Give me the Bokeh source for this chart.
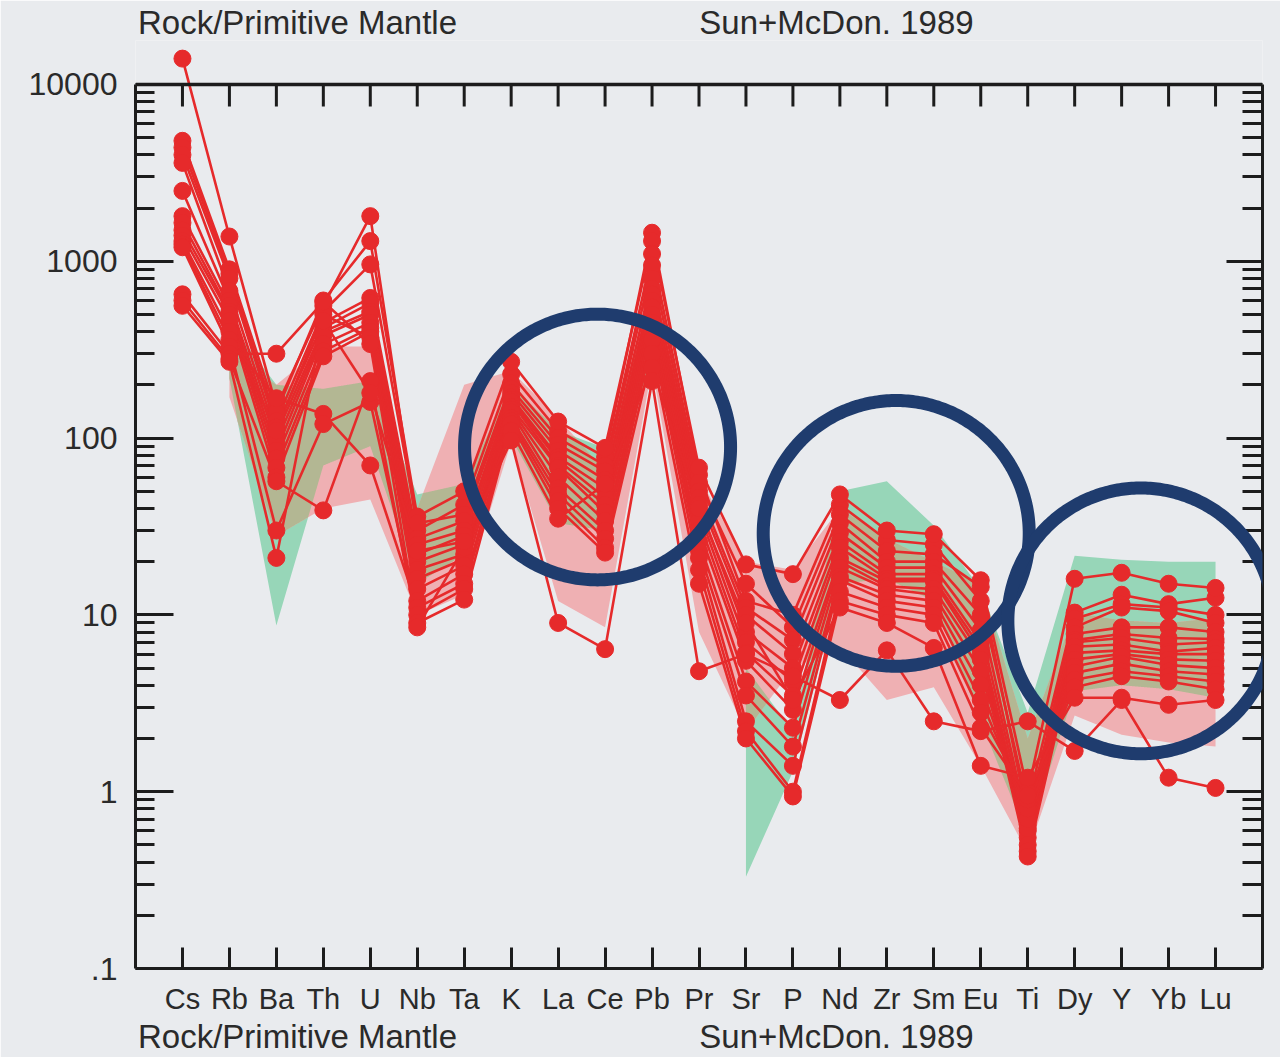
import numpy as np
from bokeh.plotting import figure
from bokeh.models import (Range1d, FixedTicker, LogAxis, LinearAxis, Span, PolyAnnotation)
from bokeh.embed import file_html
from bokeh.resources import INLINE

# ---------------------------------------------------------------- data
ELEMENTS = ["Cs", "Rb", "Ba", "Th", "U", "Nb", "Ta", "K", "La", "Ce", "Pb", "Pr",
            "Sr", "P", "Nd", "Zr", "Sm", "Eu", "Ti", "Dy", "Y", "Yb", "Lu"]

# Sample / primitive mantle ratios (order follows ELEMENTS)
S01 = [14000, 1380, 150, 560, 1800, 30, 42, 230, 110, 78, 1450, 62, 12, 10, 42, 26.5, 25, 12, 0.85, 10.3, 13, 11.5, 12.5]
S02 = [4800, 900, 140, 600, 1300, 36, 50, 270, 124, 88, 1300, 68, 19.3, 17, 48, 30, 28.6, 15.7, 1.0, 16, 17.3, 15, 14.2]
S03 = [4400, 850, 125, 520, 960, 33, 37, 204, 100, 70, 1100, 56, 15, 8.5, 37, 23, 22, 14.4, 0.72, 9.5, 11.5, 11, 10]
S04 = [4000, 800, 115, 450, 620, 27, 34, 190, 92, 65, 950, 50, 11, 7.2, 33, 20, 20, 10, 0.65, 8.5, 11, 10.5, 9]
S05 = [3600, 680, 105, 420, 580, 25, 30, 180, 85, 58, 800, 46, 10, 6, 29, 18.5, 18.5, 8.2, 0.6, 7.8, 8.5, 8.5, 8]
S06 = [2500, 600, 95, 400, 520, 22, 28, 170, 78, 52, 700, 42, 8, 5, 26, 17, 17, 7, 0.55, 7.2, 7.8, 7.4, 7.3]
S07 = [1800, 560, 85, 380, 500, 20, 25, 165, 75, 46, 650, 38, 7, 4.2, 24, 16, 16, 6.5, 0.5, 7.0, 7.4, 6.8, 7]
S08 = [1650, 520, 77, 340, 450, 18, 22, 160, 70, 42, 600, 34, 6.1, 3.5, 21, 15.5, 15.5, 6, 0.46, 6.6, 6.8, 6.2, 6.5]
S09 = [1500, 500, 68, 310, 420, 16, 20.7, 150, 68, 38, 550, 30, 5.5, 2.9, 20, 14.5, 14, 5.6, 0.43, 6.1, 6.3, 6.0, 6]
S10 = [1400, 460, 60, 290, 400, 14, 19, 145, 60, 34, 500, 26, 4.2, 2.3, 18.5, 14, 13, 4.8, 0.62, 5.6, 6.0, 5.6, 5.5]
S11 = [1300, 400, 110, 500, 370, 12, 17, 140, 52, 30, 450, 23, 3.5, 1.8, 16.5, 13, 12, 4, 0.7, 5.1, 5.8, 5.2, 5]
S12 = [1250, 360, 168, 137, 70, 11, 15, 130, 48, 27, 400, 21, 2.5, 1.4, 15.7, 12, 11, 3.3, 0.8, 4.7, 5.3, 4.8, 4.6]
S13 = [1200, 330, 30, 120, 160, 10, 14, 125, 44, 24, 360, 18, 2.2, 1.0, 13.5, 11, 10, 2.8, 0.9, 4.3, 4.8, 4.5, 4.2]
S14 = [650, 300, 300, 590, 340, 9, 12.2, 120, 40, 22.5, 300, 15, 2.0, 0.94, 12, 10, 9, 2.3, 0.95, 3.9, 4.5, 4.2, 3.8]
S15 = [600, 280, 57, 39, 210, 8.5, 24, 110, 35, 55, 250, 40, 9, 3.3, 11, 9, 6.5, 1.4, 1.2, 3.4, 3.4, 3.1, 3.3]
S16 = [560, 270, 21, 460, 180, 23, 26, 97, 9, 6.4, 210, 4.8, 6, 4.5, 3.3, 6.3, 2.5, 2.2, 2.5, 1.7, 3.3, 1.2, 1.05]
SAMPLES = [S01, S02, S03, S04, S05, S06, S07, S08, S09, S10, S11, S12, S13, S14, S15, S16]

# Pink reference field, Rb .. Lu (upper / lower envelope)
PINK_HI = [300, 200, 330, 330, 40, 200, 240, 130, 65, 800, 60, 20, 18, 40, 27, 20, 15, 2.0, 10.3, 9.3, 9.0, 9.6]
PINK_LO = [170, 28, 40, 45, 10, 13, 95, 12, 8.5, 250, 8, 2.2, 5, 6.6, 3.3, 3.9, 1.4, 0.45, 2.7, 2.1, 1.9, 1.8]
# Green reference field, in two parts: Rb .. Pb and Sr .. Lu
GREEN_A_HI = [450, 200, 190, 210, 48, 55, 200, 110, 88, 600]
GREEN_A_LO = [218, 8.7, 70, 90, 15, 22, 100, 33, 30, 300]
GREEN_B_HI = [5.0, 2.2, 50, 57, 32, 14, 2.8, 21.6, 20.5, 20, 20]
GREEN_B_LO = [0.33, 1.3, 15, 16, 12, 2.5, 0.55, 3.7, 4.0, 3.8, 3.4]

# Highlighted element groups: ring centre (element position, ratio)
HIGHLIGHTS = [(8.84, 89.0), (15.2, 28.9), (20.41, 9.25)]

Y_TICKS = [0.1, 1, 10, 100, 1000, 10000]
Y_TICK_LABELS = [".1", "1", "10", "100", "1000", "10000"]
CAPTIONS = ["Rock/Primitive Mantle", "Sun+McDon. 1989"]

# ---------------------------------------------------------------- style / layout
W, H = 1280, 1057
FRAME_L, FRAME_R = 135, 1262
FRAME_T, FRAME_B = 40, 969
DECADE_PX = 177.0
X_START, X_END = -1, 23
Y_START = 0.1
Y_END = Y_START * 10 ** ((FRAME_B - FRAME_T) / DECADE_PX)
PX_PER_X = (FRAME_R - FRAME_L) / (X_END - X_START)
CAPTION_CENTRES_PX = [297, 836]

BG = "#e9ebee"
INK = "#1c1c1c"
TXT = "#2a2a2a"
RED = "#e62a2b"
PINK = "#efb0b3"
GREEN = "#97d6b8"
OLIVE = "#b3b793"
NAVY = "#1f3c6e"
FONT = "Liberation Sans"


def px_to_x(sx):
    return X_START + (sx - FRAME_L) / PX_PER_X


p = figure(width=W, height=H, output_backend="svg", toolbar_location=None,
           x_range=Range1d(X_START, X_END), y_range=Range1d(Y_START, Y_END),
           y_axis_type="log", x_axis_location=None, y_axis_location=None,
           min_border_left=FRAME_L, min_border_right=W - FRAME_R,
           min_border_top=FRAME_T, min_border_bottom=H - FRAME_B)
p.background_fill_color = BG
p.border_fill_color = BG
p.outline_line_color = None
p.grid.visible = False

# ---------------------------------------------------------------- axes
minor = [k * 10.0 ** e for e in range(-1, 4) for k in range(2, 10)]
y_ticker = FixedTicker(ticks=Y_TICKS, minor_ticks=minor)
axis_style = dict(axis_line_color=INK, axis_line_width=3,
                  major_tick_line_color=INK, major_tick_line_width=3,
                  minor_tick_line_color=INK, minor_tick_line_width=3)

left = LogAxis(ticker=y_ticker, bounds=(Y_TICKS[0], Y_TICKS[-1]),
               major_label_overrides=dict(zip(Y_TICKS, Y_TICK_LABELS)),
               major_tick_in=38, major_tick_out=0, minor_tick_in=19, minor_tick_out=0,
               major_label_standoff=18, major_label_text_font=FONT,
               major_label_text_font_size="32px", major_label_text_color=TXT,
               **axis_style)
p.add_layout(left, "left")

right = LogAxis(ticker=y_ticker, bounds=(Y_TICKS[0], Y_TICKS[-1]),
                major_label_overrides={t: "" for t in Y_TICKS},
                major_tick_in=36, major_tick_out=0, minor_tick_in=20, minor_tick_out=0,
                major_label_standoff=0, major_label_text_font_size="1px",
                **axis_style)
p.add_layout(right, "right")

idx = list(range(len(ELEMENTS)))
bottom = LinearAxis(ticker=FixedTicker(ticks=idx, minor_ticks=[]),
                    major_label_overrides={i: e for i, e in zip(idx, ELEMENTS)},
                    major_tick_in=21, major_tick_out=0,
                    major_label_standoff=14, major_label_text_font=FONT,
                    major_label_text_font_size="29px", major_label_text_color=TXT,
                    **axis_style)
p.add_layout(bottom, "below")

# caption rows above and below the diagram
cap_x = [px_to_x(c) for c in CAPTION_CENTRES_PX]
for side in ("above", "below"):
    cap = LinearAxis(ticker=FixedTicker(ticks=cap_x, minor_ticks=[]),
                     major_label_overrides=dict(zip(cap_x, CAPTIONS)),
                     axis_line_color=None, major_tick_line_color=None,
                     minor_tick_line_color=None, major_tick_out=0, major_tick_in=0,
                     major_label_standoff=0, major_label_text_font=FONT,
                     major_label_text_font_size="33px", major_label_text_color=TXT)
    p.add_layout(cap, side)

# top border at the 10000 level with downward element ticks
p.add_layout(Span(location=Y_TICKS[-1], dimension="width", line_color=INK, line_width=3.5))
p.ray(x=idx, y=[Y_TICKS[-1]] * len(idx), length=22, length_units="screen",
      angle=-np.pi / 2, line_color=INK, line_width=3)

# ---------------------------------------------------------------- fields
fx = list(range(1, len(ELEMENTS)))
ga_x = list(range(1, 11))
gb_x = list(range(12, len(ELEMENTS)))
p.varea(x=ga_x, y1=GREEN_A_LO, y2=GREEN_A_HI, fill_color=GREEN)
p.varea(x=gb_x, y1=GREEN_B_LO, y2=GREEN_B_HI, fill_color=GREEN)
p.varea(x=fx, y1=PINK_LO, y2=PINK_HI, fill_color=PINK)

# where both fields overlap (edges are straight in log space)
for gx, g_lo, g_hi in ((ga_x, GREEN_A_LO, GREEN_A_HI), (gb_x, GREEN_B_LO, GREEN_B_HI)):
    xf = np.linspace(gx[0], gx[-1], 100 * (gx[-1] - gx[0]) + 1)
    lo = np.maximum(np.interp(xf, fx, np.log10(PINK_LO)), np.interp(xf, gx, np.log10(g_lo)))
    hi = np.minimum(np.interp(xf, fx, np.log10(PINK_HI)), np.interp(xf, gx, np.log10(g_hi)))
    hi = np.maximum(hi, lo)
    p.varea(x=xf, y1=10 ** lo, y2=10 ** hi, fill_color=OLIVE)

# ---------------------------------------------------------------- samples
p.multi_line(xs=[idx] * len(SAMPLES), ys=SAMPLES, line_color=RED, line_width=2.6)
p.scatter(x=idx * len(SAMPLES), y=[v for s in SAMPLES for v in s],
          size=17, fill_color=RED, line_color=RED)

# ---------------------------------------------------------------- highlight rings
R_PX = 133
t = np.linspace(0, 2 * np.pi, 361)
for cx, cy in HIGHLIGHTS:
    xs = cx + R_PX * np.cos(t) / PX_PER_X
    ys = cy * 10 ** (R_PX * np.sin(t) / DECADE_PX)
    p.add_layout(PolyAnnotation(xs=list(xs), ys=list(ys), fill_color=None, fill_alpha=0,
                                line_color=NAVY, line_alpha=1.0, line_width=13,
                                line_join="round"))

open("out.html", "w").write(file_html(p, INLINE))
